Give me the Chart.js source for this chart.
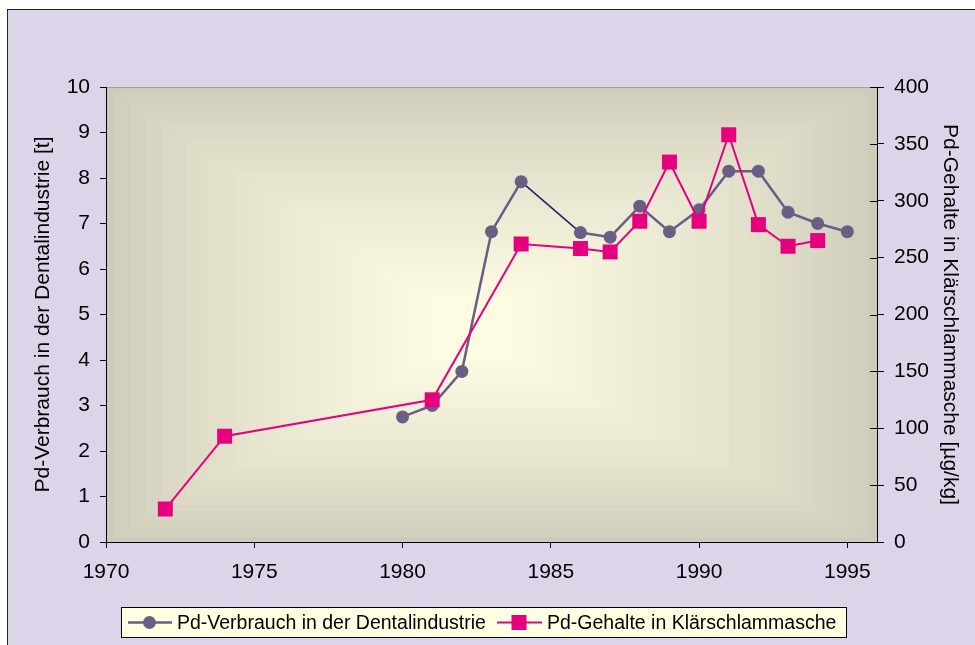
<!DOCTYPE html>
<html>
<head>
<meta charset="utf-8">
<script src="https://cdn.jsdelivr.net/npm/chart.js@4.4.1/dist/chart.umd.min.js"></script>
<style>
  html, body { margin: 0; padding: 0; background: #fff; }
  #wrap { position: relative; width: 975px; height: 645px; }
  canvas { display: block; }
</style>
</head>
<body>
<div id="wrap"><canvas id="c" width="975" height="645"></canvas></div>
<script>
// ---- data ----
const dentalYears = [1980, 1981, 1982, 1983, 1984, 1986, 1987, 1988, 1989, 1990, 1991, 1992, 1993, 1994, 1995];
const dentalValues = [2.75, 3.0, 3.75, 6.82, 7.92, 6.8, 6.7, 7.38, 6.82, 7.3, 8.15, 8.15, 7.25, 7.0, 6.82];
const sludgeYears = [1972, 1974, 1981, 1984, 1986, 1987, 1988, 1989, 1990, 1991, 1992, 1993, 1994];
const sludgeValues = [29, 93, 125, 262, 258, 255, 282, 334, 282, 358, 279, 260, 265];
const xTicks = [1970, 1975, 1980, 1985, 1990, 1995];
const leftTicks = [0, 1, 2, 3, 4, 5, 6, 7, 8, 9, 10];
const rightTicks = [0, 50, 100, 150, 200, 250, 300, 350, 400];
const labelDental = 'Pd-Verbrauch in der Dentalindustrie';
const labelSludge = 'Pd-Gehalte in Klärschlammasche';
const titleLeft = 'Pd-Verbrauch in der Dentalindustrie [t]';
const titleRight = 'Pd-Gehalte in Klärschlammasche [µg/kg]';

const GRAY = '#6A5E85';
const PINK = '#E5007D';
const FONT = '"Liberation Sans", Arial, sans-serif';
const FS = 21;
const FS_LEG = 19.5;

function lerp(a, b, t) { return a + (b - a) * t; }
function mix(c1, c2, t) {
  return 'rgb(' + [0,1,2].map(i => Math.round(lerp(c1[i], c2[i], t))).join(',') + ')';
}

const bgPlugin = {
  id: 'bg',
  beforeDraw(chart) {
    const ctx = chart.ctx;
    const a = chart.chartArea;
    ctx.save();
    ctx.fillStyle = '#fff';
    ctx.fillRect(0, 0, chart.width, chart.height);
    ctx.fillStyle = '#DCD5EA';
    ctx.fillRect(7.5, 9.5, chart.width, chart.height);
    ctx.strokeStyle = '#222';
    ctx.lineWidth = 1;
    ctx.strokeRect(7.5, 9.5, chart.width, chart.height);
    // rectangular "from centre" gradient in plot area
    const outer = [206, 203, 186];
    const inner = [253, 251, 226];
    const cx = 470, cy = 330;
    const N = 40;
    for (let i = 0; i <= N; i++) {
      const t = i / N;
      const l = lerp(a.left, cx - 40, t), r = lerp(a.right, cx + 40, t);
      const tp = lerp(a.top, cy - 30, t), b = lerp(a.bottom, cy + 30, t);
      ctx.fillStyle = mix(outer, inner, Math.pow(t, 0.8));
      ctx.fillRect(l, tp, r - l, b - tp);
    }
    ctx.strokeStyle = '#A0A0A0';
    ctx.beginPath();
    ctx.moveTo(a.left, a.top + 0.5);
    ctx.lineTo(a.right, a.top + 0.5);
    ctx.stroke();
    ctx.restore();
  },
  afterDatasetsDraw(chart) {
    // inner halves of the right-axis tick marks (they cross the axis)
    const ctx = chart.ctx;
    const s = chart.scales.y2;
    const a = chart.chartArea;
    ctx.save();
    ctx.strokeStyle = '#000';
    ctx.lineWidth = 1;
    s.ticks.forEach(t => {
      const y = Math.round(s.getPixelForValue(t.value)) + 0.5;
      ctx.beginPath();
      ctx.moveTo(a.right - 7, y);
      ctx.lineTo(a.right, y);
      ctx.stroke();
    });
    ctx.restore();
  },
  afterDraw(chart) {
    const ctx = chart.ctx;
    ctx.save();
    // legend box
    const bx = 121.5, by = 607.5, bw = 725, bh = 30;
    ctx.fillStyle = '#FFFFE1';
    ctx.fillRect(bx, by, bw, bh);
    ctx.strokeStyle = '#000';
    ctx.lineWidth = 1;
    ctx.strokeRect(bx, by, bw, bh);
    const my = by + bh / 2;
    ctx.font = FS_LEG + 'px ' + FONT;
    ctx.textBaseline = 'middle';
    // item 1
    ctx.strokeStyle = GRAY; ctx.lineWidth = 2.5;
    ctx.beginPath(); ctx.moveTo(128, my); ctx.lineTo(172, my); ctx.stroke();
    ctx.fillStyle = GRAY;
    ctx.beginPath(); ctx.arc(149.5, my, 6.5, 0, Math.PI * 2); ctx.fill();
    ctx.fillStyle = '#000';
    ctx.fillText(labelDental, 177, my + 1);
    // item 2
    ctx.strokeStyle = PINK; ctx.lineWidth = 2;
    ctx.beginPath(); ctx.moveTo(497, my); ctx.lineTo(542, my); ctx.stroke();
    ctx.fillStyle = PINK;
    ctx.fillRect(511.5, my - 7.5, 15, 15);
    ctx.fillStyle = '#000';
    ctx.fillText(labelSludge, 547, my + 1);
    ctx.restore();
  }
};

const chart = new Chart(document.getElementById('c'), {
  type: 'line',
  data: {
    datasets: [
      {
        label: labelDental,
        data: dentalYears.map((x, i) => ({ x, y: dentalValues[i] })),
        yAxisID: 'y',
        borderColor: GRAY,
        backgroundColor: GRAY,
        borderWidth: 2.5,
        pointRadius: 6.5,
        pointHoverRadius: 6.5,
        pointBorderWidth: 0,
        pointStyle: 'circle',
        order: 1,
        segment: {
          borderColor: c => (c.p0.parsed.x === 1984 ? '#2B1870' : undefined),
          borderWidth: c => (c.p0.parsed.x === 1984 ? 1.5 : undefined)
        }
      },
      {
        label: labelSludge,
        data: sludgeYears.map((x, i) => ({ x, y: sludgeValues[i] })),
        yAxisID: 'y2',
        borderColor: PINK,
        backgroundColor: PINK,
        borderWidth: 2,
        pointRadius: 10.6,
        pointHoverRadius: 10.6,
        pointBorderWidth: 0,
        pointStyle: 'rect',
        order: 0
      }
    ]
  },
  options: {
    responsive: false,
    animation: false,
    events: [],
    layout: { padding: { top: 87, left: 0, right: 0, bottom: 0 } },
    plugins: { legend: { display: false }, tooltip: { enabled: false } },
    scales: {
      x: {
        type: 'linear',
        min: 1970, max: 1996,
        afterBuildTicks: s => { s.ticks = xTicks.map(v => ({ value: v })); },
        afterFit: s => { s.height = 103; },
        grid: { drawOnChartArea: false, drawTicks: true, tickLength: 6, color: '#000' },
        border: { color: '#000', width: 1 },
        ticks: { color: '#000', font: { family: FONT, size: FS }, padding: 12, maxRotation: 0, callback: v => String(v) }
      },
      y: {
        position: 'left',
        min: 0, max: 10,
        afterBuildTicks: s => { s.ticks = leftTicks.map(v => ({ value: v })); },
        afterFit: s => { s.width = 106; },
        grid: { drawOnChartArea: false, drawTicks: true, tickLength: 6, color: '#000' },
        border: { color: '#000', width: 1 },
        ticks: { color: '#000', font: { family: FONT, size: FS }, padding: 10 },
        title: { display: true, text: titleLeft, color: '#000', font: { family: FONT, size: FS }, padding: { top: 31, bottom: 0 } }
      },
      y2: {
        position: 'right',
        min: 0, max: 400,
        afterBuildTicks: s => { s.ticks = rightTicks.map(v => ({ value: v })); },
        afterFit: s => { s.width = 98; },
        grid: { drawOnChartArea: false, drawTicks: true, tickLength: 7, color: '#000' },
        border: { color: '#000', width: 1 },
        ticks: { color: '#000', font: { family: FONT, size: FS }, padding: 10 },
        title: { display: true, text: titleRight, color: '#000', font: { family: FONT, size: FS }, padding: { top: 13, bottom: 0 } }
      }
    }
  },
  plugins: [bgPlugin]
});
</script>
</body>
</html>
